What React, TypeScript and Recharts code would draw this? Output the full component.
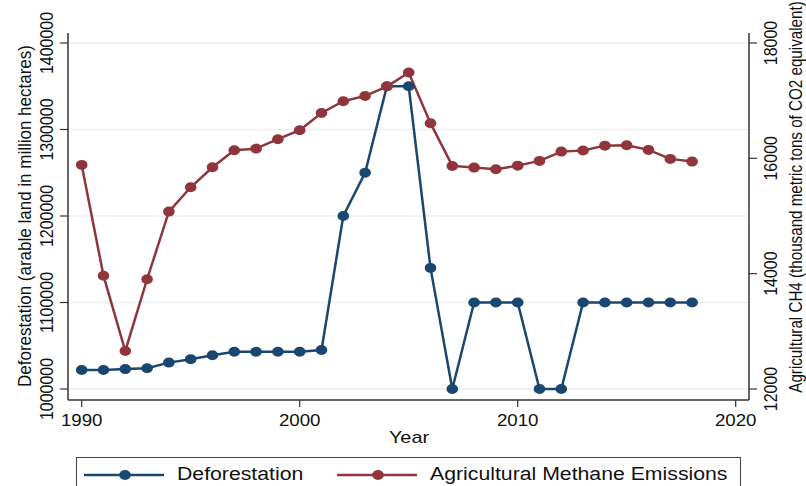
import { LineChart, Line, XAxis, YAxis, CartesianGrid } from "recharts";

const YEARS = [1990, 1991, 1992, 1993, 1994, 1995, 1996, 1997, 1998, 1999, 2000, 2001, 2002, 2003, 2004, 2005, 2006, 2007, 2008, 2009, 2010, 2011, 2012, 2013, 2014, 2015, 2016, 2017, 2018];
const DEFORESTATION = [1022000, 1022000, 1023000, 1024000, 1030500, 1034500, 1039000, 1043000, 1043000, 1043000, 1043000, 1045000, 1200000, 1250000, 1350000, 1350000, 1140000, 1000000, 1100000, 1100000, 1100000, 1000000, 1000000, 1100000, 1100000, 1100000, 1100000, 1100000, 1100000];
const METHANE = [15886, 13965, 12659, 13903, 15076, 15498, 15845, 16140, 16168, 16331, 16487, 16787, 16990, 17082, 17244, 17487, 16609, 15868, 15839, 15811, 15873, 15955, 16116, 16134, 16220, 16227, 16146, 15990, 15943];

const X_TICKS = [1990, 2000, 2010, 2020];
const LEFT_TICKS = [1000000, 1100000, 1200000, 1300000, 1400000];
const RIGHT_TICKS = [12000, 14000, 16000, 18000];

const NAVY = "#1a476f";
const MAROON = "#90353b";
const AXIS = "#333333";
const FONT = "'Liberation Sans', Arial, sans-serif";

const data = YEARS.map((year, i) => ({ year, defor: DEFORESTATION[i], ch4: METHANE[i] }));

const dot = (color: string) => (props: any) => {
  const { cx, cy, index } = props;
  if (cx == null || cy == null) return null;
  return <ellipse key={index} cx={cx} cy={cy} rx={5.8} ry={5} fill={color} />;
};

const XTick = ({ x, y, payload }: any) => (
  <text transform={`translate(${x},${y + 19}) scale(1.1,1)`} textAnchor="middle" fontSize={17} fontFamily={FONT} fill="#111">
    {payload.value}
  </text>
);

const YTick = ({ x, y, payload }: any) => (
  <text transform={`translate(${x},${y}) scale(1.2,1) rotate(-90)`} textAnchor="middle" fontSize={16} fontFamily={FONT} fill="#111">
    {payload.value}
  </text>
);

const VLabel = ({ text, x, y, size, sx }: { text: string; x: number; y: number; size: number; sx: number }) => (
  <text transform={`translate(${x},${y}) scale(${sx},1) rotate(-90)`} textAnchor="middle" fontSize={size} fontFamily={FONT} fill="#111">
    {text}
  </text>
);

const LegendItem = ({ color, label }: { color: string; label: string }) => (
  <div style={{ display: "flex", alignItems: "center" }}>
    <svg width={80} height={12} style={{ marginRight: 13 }}>
      <line x1={0} y1={6} x2={80} y2={6} stroke={color} strokeWidth={2.5} />
      <ellipse cx={41} cy={6} rx={5.8} ry={5} fill={color} />
    </svg>
    <span style={{ fontSize: 18, fontFamily: FONT, color: "#111", display: "inline-block", transform: "scaleX(1.18)", transformOrigin: "left center", whiteSpace: "nowrap" }}>
      {label}
    </span>
  </div>
);

export default function App() {
  return (
    <div style={{ position: "absolute", left: 0, top: 0, width: 806, height: 486, background: "#fff", overflow: "hidden" }}>
      <LineChart width={806} height={486} data={data} margin={{ top: 33, right: 0, bottom: 0, left: 0 }}>
        <CartesianGrid yAxisId="left" vertical={false} horizontalValues={LEFT_TICKS} stroke="#e8f0f2" strokeWidth={1.5} />
        <XAxis
          dataKey="year"
          type="number"
          domain={[1989.372, 2020.61]}
          ticks={X_TICKS}
          allowDataOverflow
          height={86}
          tickSize={7}
          tickMargin={0}
          axisLine={{ stroke: AXIS, strokeWidth: 1.5 }}
          tickLine={{ stroke: AXIS, strokeWidth: 1.2 }}
          tick={<XTick />}
          label={{ content: () => (
            <text transform="translate(409,443) scale(1.17,1)" textAnchor="middle" fontSize={17} fontFamily={FONT} fill="#111">Year</text>
          ) }}
        />
        <YAxis
          yAxisId="left"
          orientation="left"
          width={68}
          domain={[987283, 1411561]}
          ticks={LEFT_TICKS}
          allowDataOverflow
          tickSize={8}
          tickMargin={7}
          axisLine={{ stroke: AXIS, strokeWidth: 1.5 }}
          tickLine={{ stroke: AXIS, strokeWidth: 1.2 }}
          tick={<YTick />}
          label={{ content: () => <VLabel text="Deforestation (arable land in million hectares)" x={31} y={216} size={17} sx={1.1} /> }}
        />
        <YAxis
          yAxisId="right"
          orientation="right"
          width={57}
          domain={[11809, 18173]}
          ticks={RIGHT_TICKS}
          allowDataOverflow
          tickSize={8}
          tickMargin={20}
          axisLine={{ stroke: AXIS, strokeWidth: 1.5 }}
          tickLine={{ stroke: AXIS, strokeWidth: 1.2 }}
          tick={<YTick />}
          label={{ content: () => <VLabel text="Agricultural CH4 (thousand metric tons of CO2 equivalent)" x={802} y={197} size={15.2} sx={1.2} /> }}
        />
        <Line yAxisId="left" dataKey="defor" stroke={NAVY} strokeWidth={2.5} dot={dot(NAVY)} activeDot={false} isAnimationActive={false} />
        <Line yAxisId="right" dataKey="ch4" stroke={MAROON} strokeWidth={2.5} dot={dot(MAROON)} activeDot={false} isAnimationActive={false} />
      </LineChart>
      <div style={{ position: "absolute", left: 76, top: 457, width: 665, height: 40, border: "1px solid #444", boxSizing: "border-box", display: "flex", alignItems: "flex-start", paddingTop: 6, paddingLeft: 7, gap: 53 }}>
        <LegendItem color={NAVY} label="Deforestation" />
        <LegendItem color={MAROON} label="Agricultural Methane Emissions" />
      </div>
    </div>
  );
}
